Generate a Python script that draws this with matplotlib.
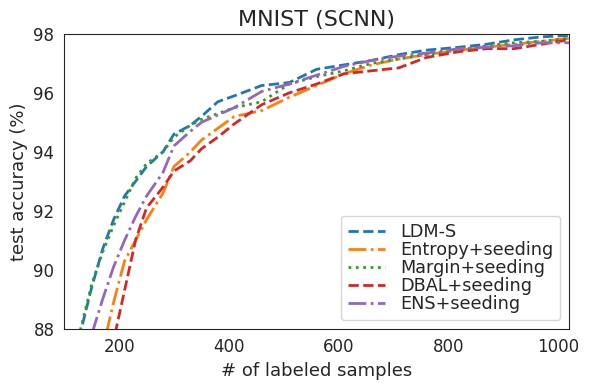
import matplotlib
matplotlib.use("Agg")
import matplotlib.pyplot as plt
import seaborn as sns

sns.set_style("white")
plt.rcParams['font.family'] = ['DejaVu Sans']

x = [110, 130, 150, 170, 190, 210, 230, 250, 280, 300, 330, 350, 380, 410,
     460, 510, 560, 610, 660, 710, 760, 820, 870, 920, 970, 1020]

ldm_s = [86.2, 87.9, 89.4, 90.7, 91.7, 92.5, 93.0, 93.5, 94.0, 94.6, 94.9, 95.2, 95.7, 95.9,
         96.25, 96.35, 96.8, 96.95, 97.1, 97.3, 97.45, 97.55, 97.65, 97.8, 97.9, 97.95]
entropy = [82.0, 84.0, 85.8, 87.3, 88.9, 90.3, 91.0, 91.7, 92.6, 93.5, 94.0, 94.4, 94.8, 95.2,
           95.4, 95.85, 96.25, 96.65, 96.95, 97.15, 97.3, 97.45, 97.55, 97.65, 97.75, 97.85]
margin = [86.5, 88.0, 89.5, 90.6, 91.5, 92.3, 93.1, 93.6, 94.0, 94.5, 94.9, 95.1, 95.3, 95.5,
          95.7, 96.3, 96.55, 96.75, 97.0, 97.15, 97.3, 97.45, 97.6, 97.7, 97.75, 97.85]
dbal = [80.0, 82.0, 84.0, 86.0, 87.6, 89.3, 91.0, 92.1, 92.8, 93.35, 93.7, 94.1, 94.5, 94.95,
        95.6, 96.0, 96.3, 96.65, 96.75, 96.85, 97.2, 97.4, 97.5, 97.5, 97.65, 97.8]
ens = [84.5, 86.5, 87.8, 89.0, 90.1, 91.0, 91.8, 92.5, 93.3, 94.2, 94.7, 95.0, 95.25, 95.5,
       96.05, 96.3, 96.6, 96.9, 97.1, 97.25, 97.35, 97.5, 97.55, 97.6, 97.7, 97.7]

series = [
    ("LDM-S", ldm_s, "#1f77b4", "--"),
    ("Entropy+seeding", entropy, "#ff7f0e", "-."),
    ("Margin+seeding", margin, "#2ca02c", ":"),
    ("DBAL+seeding", dbal, "#d62728", "--"),
    ("ENS+seeding", ens, "#9467bd", "-."),
]

fig, ax = plt.subplots(figsize=(5.89, 3.9), dpi=100)
for name, vals, c, ls in series:
    ax.plot(x, vals, color=c, linestyle=ls, linewidth=2, label=name)

ax.set_xlim(100, 1020)
ax.set_ylim(88, 98)
ax.set_xticks([200, 400, 600, 800, 1000])
ax.set_yticks([88, 90, 92, 94, 96, 98])
ax.tick_params(labelsize=12)
ax.set_title("MNIST (SCNN)", fontsize=16)
ax.set_xlabel("# of labeled samples", fontsize=13)
ax.set_ylabel("test accuracy (%)", fontsize=13)
for s in ax.spines.values():
    s.set_color("#262626")
ax.legend(loc="lower right", fontsize=12.7, handlelength=2.1, labelspacing=0.0,
          borderpad=0.4, handletextpad=0.85)
fig.subplots_adjust(left=0.109, right=0.966, top=0.913, bottom=0.157)
fig.savefig("out.png", dpi=100)
